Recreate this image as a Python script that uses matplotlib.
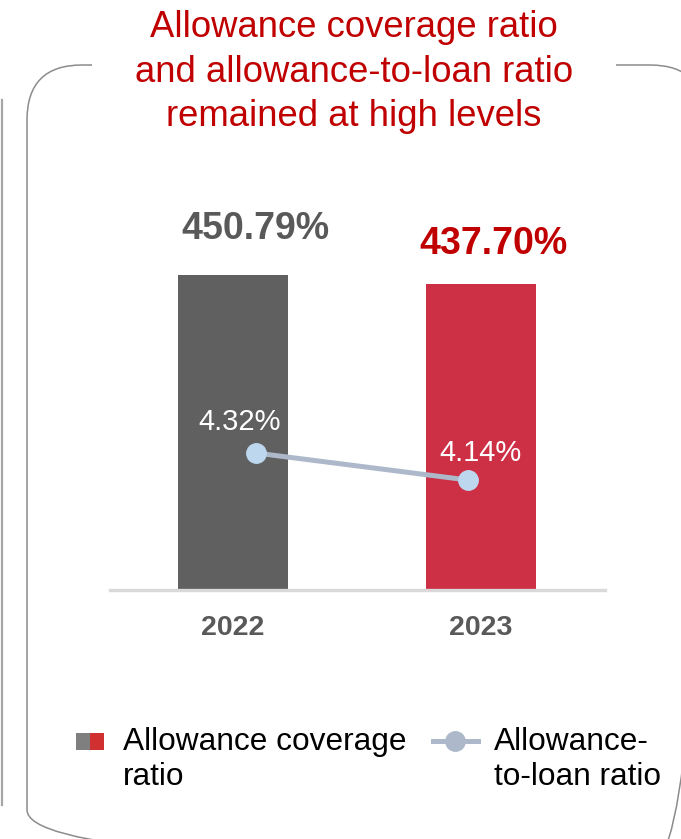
import numpy as np
import matplotlib.pyplot as plt
from matplotlib.patches import FancyBboxPatch, Rectangle

plt.rcParams['font.family'] = ['Liberation Sans', 'DejaVu Sans']

# chart data
years = ["2022", "2023"]
coverage = [450.79, 437.70]           # allowance coverage ratio, %
allowance_to_loan = [4.32, 4.14]      # allowance-to-loan ratio, %
bar_colors = ["#606060", "#cd2f45"]
value_colors = ["#595959", "#c00000"]

title_lines = ["Allowance coverage ratio",
               "and allowance-to-loan ratio",
               "remained at high levels"]
legend_left = ["Allowance coverage", "ratio"]
legend_right = ["Allowance-", "to-loan ratio"]

W, H = 681, 839
fig = plt.figure(figsize=(W / 100, H / 100), dpi=100)

# background layer in pixel coordinates (frame, title, legend)
bg = fig.add_axes([0, 0, 1, 1])
bg.set_xlim(0, W)
bg.set_ylim(H, 0)
bg.axis('off')

frame = FancyBboxPatch((27, 65), 678, 800, boxstyle="round,pad=0,rounding_size=55",
                       fc='none', ec='#8c8c8c', lw=1.1)
bg.add_patch(frame)
# gap in the top edge behind the title
bg.add_patch(Rectangle((92, 55), 524, 20, fc='white', ec='none', zorder=3))
bg.plot([1.5, 1.5], [100, 805], color='#a6a6a6', lw=1.6)

for i, line in enumerate(title_lines):
    bg.text(354, 37 + i * 44.5, line, ha='center', va='baseline',
            fontsize=26.3, color='#c00000', zorder=4)

# legend
bg.add_patch(Rectangle((76, 733), 14, 17, fc='#7f7f7f', ec='none'))
bg.add_patch(Rectangle((90, 733), 14, 17, fc='#d03030', ec='none'))
bg.plot([433, 478], [741, 741], color='#adb9ca', lw=3.6)
bg.plot([455], [741], marker='o', ms=14, color='#adb9ca')
for i, line in enumerate(legend_left):
    bg.text(123, 750 + i * 35, line, fontsize=22.8, va='baseline', color='black')
for i, line in enumerate(legend_right):
    bg.text(494, 750 + i * 35, line, fontsize=22.8, va='baseline', color='black')

# bars
ax = fig.add_axes([110 / W, (H - 590) / H, 495 / W, 390 / H])
ax.patch.set_visible(False)
x = np.arange(len(years))
bars = ax.bar(x, coverage, width=0.444, color=bar_colors)
ax.set_xlim(-0.496, 1.5)
ax.set_ylim(0, 558)
for s in ['top', 'right', 'left']:
    ax.spines[s].set_visible(False)
ax.spines['bottom'].set_color('#d9d9d9')
ax.spines['bottom'].set_linewidth(2.4)
ax.set_yticks([])
ax.set_xticks(x, years)
ax.tick_params(axis='x', length=0, pad=18, labelsize=20.5, labelcolor='#595959')
for lab in ax.get_xticklabels():
    lab.set_fontweight('bold')

bar_offsets = [(22, 46), (12, 40)]
for xi, v, c, off in zip(x, coverage, value_colors, bar_offsets):
    ax.annotate(f"{v:.2f}%", xy=(xi, v), xytext=off, textcoords='offset pixels',
                ha='center', va='center', fontsize=27, fontweight='bold', color=c)

# allowance-to-loan line on a secondary scale
ax2 = ax.twinx()
ax2.set_ylim(3.407, 6.007)
ax2.axis('off')
line_x = x + np.array([0.093, -0.052])
ax2.plot(line_x, allowance_to_loan, color='#adb9ca', lw=3.6, zorder=2)
ax2.plot(line_x, allowance_to_loan, 'o', ms=14, color='#bdd7ee', zorder=3)
line_offsets = [(-16, 31), (12, 27)]
for xi, v, off in zip(line_x, allowance_to_loan, line_offsets):
    ax2.annotate(f"{v:.2f}%", xy=(xi, v), xytext=off, textcoords='offset pixels',
                 ha='center', va='center', fontsize=21, color='white')

fig.savefig("out.png", dpi=100)
